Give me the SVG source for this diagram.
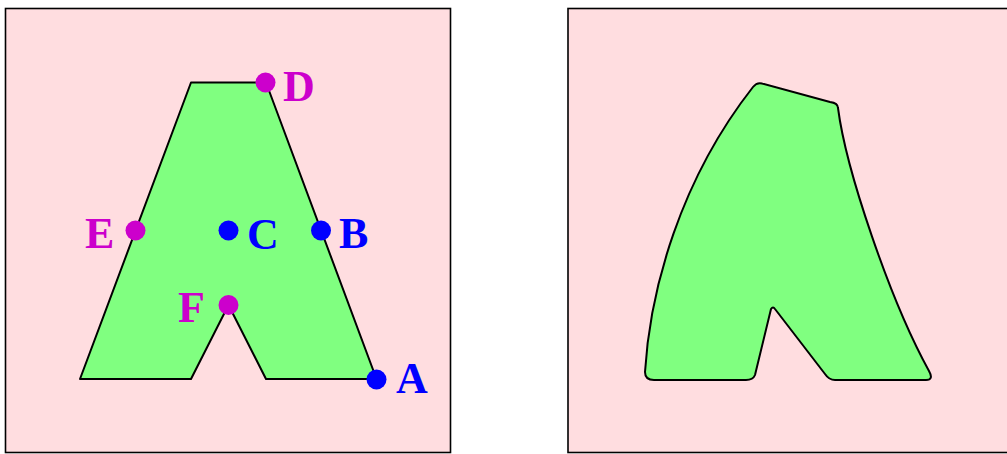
<svg xmlns="http://www.w3.org/2000/svg" width="1007" height="454" viewBox="0 0 1007 454">
  <style>
    .panel { fill: #ffdde0; stroke: #000; stroke-width: 1.6; }
    .shape { fill: #80ff80; stroke: #000; stroke-width: 2; stroke-linejoin: round; }
    .lbl { font-family: "Liberation Serif", "Times New Roman", serif; font-weight: bold; font-size: 44px; }
    .mag { fill: #cc00cc; }
    .blu { fill: #0000ff; }
  </style>
  <rect width="1007" height="454" fill="#ffffff"/>
  <g id="left-panel">
    <rect class="panel" x="5.5" y="8.5" width="445" height="444"/>
    <polygon class="shape" points="80,379 191,82.5 266,82.5 376.5,379 266,379 228.5,305 191,379"/>
  </g>
  <g id="right-panel">
    <rect class="panel" x="568" y="8.5" width="445" height="444"/>
    <path class="shape" d="M 753,87 Q 757,82 762,83.5 L 830,102 Q 838,103 838,108 C 846,170 890,300 929,371 Q 934,380 926,380 L 835,380 Q 829,380 825,374 L 775,309 Q 773,306 771,309 L 755,375 Q 753,380 746,380 L 654,380 Q 645,380 645,372 C 650,290 680,180 753,87 Z"/>
  </g>
  <g id="point-D">
    <circle class="mag" cx="265.5" cy="82.5" r="10"/>
    <text class="lbl mag" x="283" y="100.5">D</text>
  </g>
  <g id="point-E">
    <circle class="mag" cx="135.5" cy="230.5" r="10"/>
    <text class="lbl mag" x="85" y="248">E</text>
  </g>
  <g id="point-C">
    <circle class="blu" cx="228.5" cy="230.5" r="10"/>
    <text class="lbl blu" x="247" y="248.5">C</text>
  </g>
  <g id="point-B">
    <circle class="blu" cx="321" cy="230.5" r="10"/>
    <text class="lbl blu" x="339" y="248.3">B</text>
  </g>
  <g id="point-F">
    <circle class="mag" cx="228.5" cy="305" r="10"/>
    <text class="lbl mag" x="178" y="321.5">F</text>
  </g>
  <g id="point-A">
    <circle class="blu" cx="376.5" cy="379.5" r="10"/>
    <text class="lbl blu" x="396" y="393">A</text>
  </g>
  <g id="connectors"/>
</svg>
